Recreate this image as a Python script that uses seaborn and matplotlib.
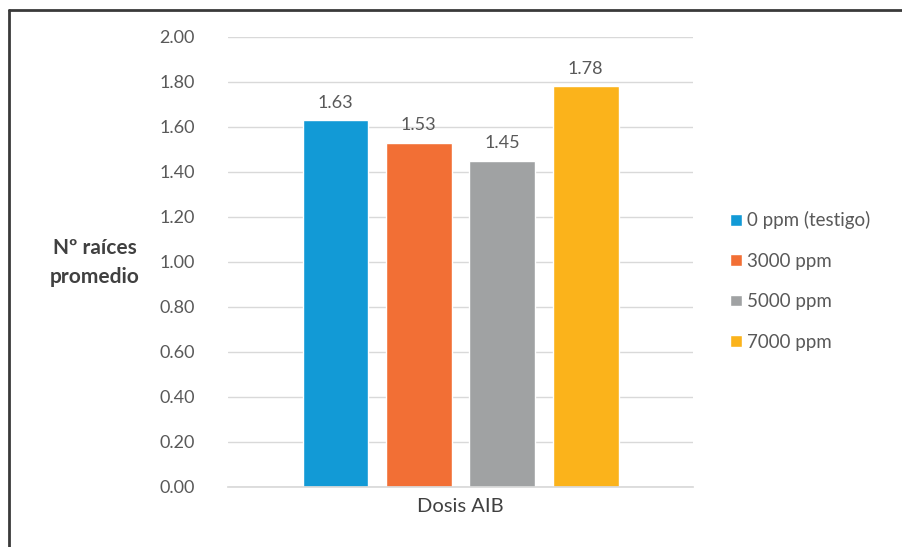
import matplotlib
matplotlib.use("Agg")
import matplotlib.pyplot as plt
from matplotlib.lines import Line2D
import seaborn as sns
import pandas as pd

# Data
categoria = ["Dosis AIB"]
tratamientos = ["0 ppm (testigo)", "3000 ppm", "5000 ppm", "7000 ppm"]
raices = [1.63, 1.53, 1.45, 1.78]
colores = ["#129ad6", "#f26f35", "#a0a2a3", "#fbb31b"]
yticks = [0.0, 0.2, 0.4, 0.6, 0.8, 1.0, 1.2, 1.4, 1.6, 1.8, 2.0]

df = pd.DataFrame({
    "dosis": categoria * len(tratamientos),
    "tratamiento": tratamientos,
    "raices": raices,
})

sns.set_theme(style="white")
plt.rcParams["font.family"] = ["Lato", "DejaVu Sans"]

fig = plt.figure(figsize=(9.02, 5.47), dpi=100)
ax = fig.add_axes([0.2528, 0.1097, 0.5155, 0.8227])

sns.barplot(data=df, x="dosis", y="raices", hue="tratamiento",
            hue_order=tratamientos, palette=colores, width=0.845, gap=0.21,
            saturation=1, ax=ax, legend=True)

ax.set_xlim(-0.589, 0.589)
ax.set_ylim(0, 2.0)
ax.set_yticks(yticks)
ax.set_yticklabels([f"{v:.2f}" for v in yticks], color="#595959", fontsize=13)
ax.tick_params(axis="y", length=0, pad=24)
ax.tick_params(axis="x", length=0, pad=8)
ax.set_xticklabels(categoria, color="#404040", fontsize=14.5)
ax.grid(axis="y", color="#d9d9d9", linewidth=1)
ax.set_axisbelow(True)
for s in ["top", "right", "left"]:
    ax.spines[s].set_visible(False)
ax.spines["bottom"].set_color("#d9d9d9")
ax.set_xlabel("")
ax.set_ylabel("")

# Value labels above each bar
for cont in ax.containers:
    ax.bar_label(cont, fmt="%.2f", padding=7, color="#595959", fontsize=13)

# Y-axis title, horizontal
fig.text(0.105, 0.52, "Nº raíces\npromedio", ha="center", va="center",
         fontsize=15, fontweight="bold", color="#404040", linespacing=1.55)

# Legend on the right
handles, labels = ax.get_legend_handles_labels()
ax.legend(handles, labels, loc="center left", bbox_to_anchor=(1.044, 0.458),
          frameon=False, fontsize=13.5, labelcolor="#595959",
          handlelength=0.6, handleheight=0.6, handletextpad=0.3,
          labelspacing=1.25)

# Outer frame (top and left edges visible)
fig.add_artist(Line2D([0.0105, 1.0], [0.9815, 0.9815], transform=fig.transFigure,
                      color="#3a3a3a", linewidth=2))
fig.add_artist(Line2D([0.0105, 0.0105], [0.0, 0.9815], transform=fig.transFigure,
                      color="#3a3a3a", linewidth=2))

fig.savefig("out.png", dpi=100, facecolor="white")
